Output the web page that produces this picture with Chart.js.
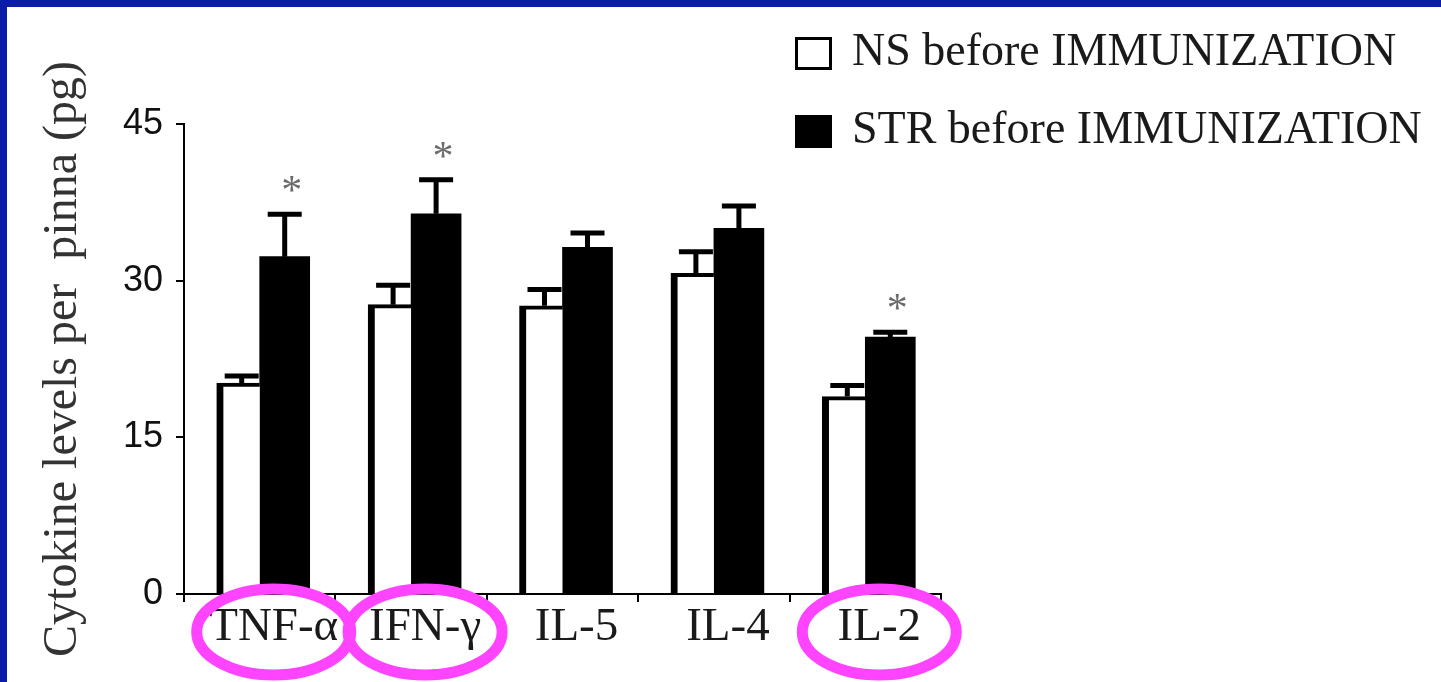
<!DOCTYPE html>
<html>
<head>
<meta charset="utf-8">
<title>Cytokine levels per pinna</title>
<script src="https://cdn.jsdelivr.net/npm/chart.js@4.4.1/dist/chart.umd.min.js"></script>
<style>
  html, body { margin: 0; padding: 0; background: #fff; overflow: hidden; }
  canvas { display: block; }
</style>
</head>
<body>
<canvas id="chart" width="1441" height="682"></canvas>
<script>
const cytokines = ['TNF-α', 'IFN-γ', 'IL-5', 'IL-4', 'IL-2'];
const nsValues = [20.2, 27.7, 27.6, 30.7, 18.9];
const nsErrors = [0.9, 2.1, 1.8, 2.3, 1.3];
const strValues = [32.3, 36.4, 33.2, 35.0, 24.6];
const strErrors = [4.3, 3.5, 1.6, 2.4, 0.7];
const significant = [true, true, false, false, true];
const circled = [true, true, false, false, true];
const yTicks = [0, 15, 30, 45];
const seriesNames = ['NS before IMMUNIZATION', 'STR before IMMUNIZATION'];

const SERIF = '"Liberation Serif", "Times New Roman", serif';
const SANS = '"Liberation Sans", Arial, sans-serif';
const LABEL_SHIFT = 14;

// white slide with the blue strip top and left
const slideBg = {
  id: 'slideBg',
  beforeDraw(chart) {
    const ctx = chart.ctx;
    ctx.save();
    ctx.fillStyle = '#fff';
    ctx.fillRect(0, 0, chart.width, chart.height);
    ctx.fillStyle = '#0a1ca8';
    ctx.fillRect(0, 0, chart.width, 7);
    ctx.fillRect(0, 0, 7, chart.height);
    ctx.restore();
  }
};

// error bars (upper only) + significance stars
const errorBars = {
  id: 'errorBars',
  afterDatasetsDraw(chart) {
    const ctx = chart.ctx;
    const yScale = chart.scales.y;
    const errs = [nsErrors, strErrors];
    ctx.save();
    ctx.strokeStyle = '#000';
    ctx.lineWidth = 5;
    chart.data.datasets.forEach((ds, i) => {
      const meta = chart.getDatasetMeta(i);
      const bw = typeof ds.borderWidth === 'object' ? ds.borderWidth : {};
      meta.data.forEach((bar, j) => {
        const x = bar.x + ((bw.left || 0) - (bw.right || 0)) / 2;
        const top = yScale.getPixelForValue(ds.data[j] + errs[i][j]) + 2.5;
        ctx.beginPath();
        ctx.moveTo(x, bar.y);
        ctx.lineTo(x, top);
        ctx.moveTo(x - 17, top);
        ctx.lineTo(x + 17, top);
        ctx.stroke();
        if (i === 1 && significant[j]) {
          ctx.font = '42px ' + SERIF;
          ctx.fillStyle = '#6b6b6b';
          ctx.textAlign = 'center';
          ctx.textBaseline = 'alphabetic';
          const m = ctx.measureText('*');
          const cy = top - 30;
          ctx.fillText('*', x + 7, cy + (m.actualBoundingBoxAscent - m.actualBoundingBoxDescent) / 2);
        }
      });
    });
    ctx.restore();
  }
};

// legend in the top right + magenta rings around some labels
const overlay = {
  id: 'overlay',
  afterDraw(chart) {
    const ctx = chart.ctx;
    ctx.save();
    const rows = [53, 131];
    chart.data.datasets.forEach((ds, i) => {
      const ry = rows[i];
      ctx.fillStyle = ds.backgroundColor;
      ctx.fillRect(795, ry - 16, 37, 33);
      if (i === 0) {
        ctx.strokeStyle = '#000';
        ctx.lineWidth = 3;
        ctx.strokeRect(796.5, ry - 14.5, 34, 30);
      }
      ctx.fillStyle = '#1a1a1a';
      ctx.font = '46px ' + SERIF;
      ctx.textAlign = 'left';
      ctx.textBaseline = 'middle';
      ctx.fillText(ds.label, 852, ry);
    });

    const xScale = chart.scales.x;
    ctx.strokeStyle = '#ff44ff';
    ctx.lineWidth = 11;
    circled.forEach((on, j) => {
      if (!on) return;
      const cx = xScale.getPixelForValue(j) + LABEL_SHIFT;
      const cy = xScale.top + 38;
      ctx.beginPath();
      ctx.ellipse(cx, cy, 77, 43, 0, 0, Math.PI * 2);
      ctx.stroke();
    });
    ctx.restore();
  }
};

new Chart(document.getElementById('chart'), {
  type: 'bar',
  data: {
    labels: cytokines,
    datasets: [
      {
        label: seriesNames[0],
        data: nsValues,
        backgroundColor: '#ffffff',
        borderColor: '#000000',
        borderWidth: { top: 4, left: 7, right: 0, bottom: 0 },
        borderSkipped: false,
        barThickness: 43
      },
      {
        label: seriesNames[1],
        data: strValues,
        backgroundColor: '#000000',
        borderWidth: 0,
        barThickness: 50
      }
    ]
  },
  options: {
    responsive: false,
    animation: false,
    layout: { padding: { top: 124, right: 500, bottom: 0, left: 0 } },
    plugins: {
      legend: { display: false },
      tooltip: { enabled: false }
    },
    scales: {
      x: {
        offset: true,
        grid: { offset: true, drawOnChartArea: false, color: '#000', lineWidth: 2, tickLength: 8 },
        border: { color: '#000', width: 2 },
        ticks: {
          color: '#1a1a1a',
          font: { family: SERIF, size: 47, lineHeight: 1 },
          padding: 2,
          labelOffset: LABEL_SHIFT,
          maxRotation: 0,
          autoSkip: false
        },
        afterFit: s => { s.height = 88; }
      },
      y: {
        min: 0,
        max: 45,
        afterBuildTicks: s => { s.ticks = yTicks.map(v => ({ value: v })); },
        grid: { drawOnChartArea: false, color: '#000', lineWidth: 2, tickLength: 8 },
        border: { color: '#000', width: 2 },
        ticks: {
          color: '#111',
          font: { family: SANS, size: 36 },
          padding: 13
        },
        title: {
          display: true,
          text: 'Cytokine levels per  pinna (pg)',
          color: '#333',
          font: { family: SERIF, size: 48 },
          padding: { top: 35, bottom: 0 }
        },
        afterFit: s => { s.width = 184; }
      }
    }
  },
  plugins: [slideBg, errorBars, overlay]
});
</script>
</body>
</html>
